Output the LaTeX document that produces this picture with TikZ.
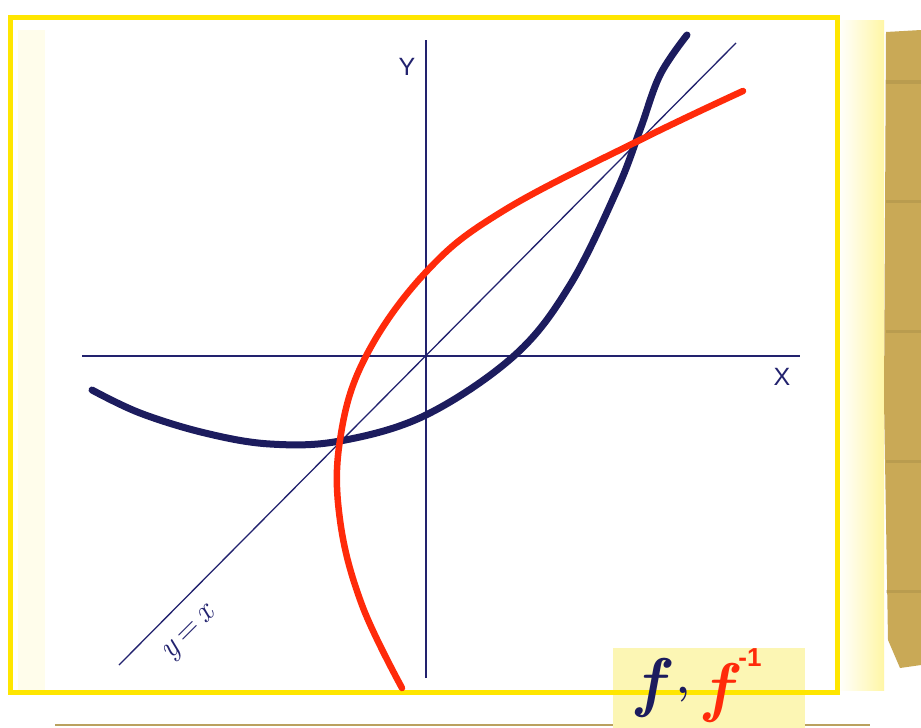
\documentclass[tikz,border=0pt]{standalone}
\usepackage{fontspec}
\setsansfont{Liberation Sans}
\definecolor{navy}{HTML}{1C1C5E}
\definecolor{axisblue}{HTML}{22226E}
\definecolor{penred}{HTML}{FF2A0A}
\definecolor{hiyellow}{HTML}{FFE600}
\definecolor{paleyellow}{HTML}{FCF6B4}
\definecolor{tan}{HTML}{C9A956}
\tikzset{
  axisline/.style={draw=axisblue, line width=1.6pt},
  diagline/.style={draw=axisblue, line width=1.3pt},
  bluecurve/.style={draw=navy, line width=7pt, line cap=round, line join=round},
  redcurve/.style={draw=penred, line width=6.5pt, line cap=round, line join=round},
  frameline/.style={draw=hiyellow, line width=5pt},
  axislabel/.style={text=axisblue, font=\sffamily\fontsize{25}{25}\selectfont, inner sep=0pt},
  biglabel/.style={inner sep=0pt, font=\fontsize{66}{66}\selectfont\bfseries\itshape},
}
\begin{document}
\begin{tikzpicture}[x=1pt,y=-1pt]
\useasboundingbox (0,0) rectangle (921,728);
\fill[white] (0,0) rectangle (921,728);
% paper edge and stain
\shade[left color=white, right color=hiyellow!35] (838,20) rectangle (884,690);
\fill[tan] (886,32) -- (921,30) -- (921,665) -- (900,668) -- (888,640) -- (884,400) -- cycle;
\fill[tan!70!black, opacity=0.25] (886,80) rectangle (921,84);
\fill[tan!70!black, opacity=0.25] (886,200) rectangle (921,203);
\fill[tan!70!black, opacity=0.25] (886,330) rectangle (921,333);
\fill[tan!70!black, opacity=0.25] (886,460) rectangle (921,463);
\fill[tan!70!black, opacity=0.25] (886,590) rectangle (921,593);
\fill[hiyellow!8] (18,30) rectangle (45,690);
\draw[line width=1.2pt, draw=tan!80!gray] (55,725) -- (870,725);
% label highlight
\fill[paleyellow] (613,648) rectangle (805,728);
% frame
\draw[frameline] (10,17) rectangle (837,692);
% axes
\coordinate (xl) at (82,356);
\coordinate (xr) at (800,356);
\coordinate (yt) at (426,40);
\coordinate (yb) at (426,678);
\coordinate (dl) at (119,665);
\coordinate (dr) at (736,43);
\draw[axisline] (xl) -- (xr);
\draw[axisline] (yb) -- (yt);
\draw[diagline] (dl) -- (dr);
% curves
\draw[bluecurve] plot[smooth, tension=0.6] coordinates {(92,390) (140,413) (205,433) (270,444) (340,441) (426,415) (515,355) (570,285) (617,190) (640,130) (660,75) (687,35)};
\draw[redcurve] plot[smooth, tension=0.65] coordinates {(402,688) (362,605) (340,520) (340,440) (365,358) (426,272) (503,211) (640,140) (743,91)};
% labels
\node[axislabel] (ylab) at (407,67) {Y};
\node[axislabel] (xlab) at (782,377) {X};
\node[text=axisblue, rotate=45, inner sep=0pt, font=\fontsize{32}{32}\selectfont] (diaglab) at (191,634) {\textit{y}\,=\,\textit{x}};
\node[biglabel, text=navy] (flab) at (650,688) {f};
\node[inner sep=0pt, text=navy, font=\fontsize{44}{44}\selectfont\bfseries] (comma) at (683,695) {,};
\node[biglabel, text=penred] (finv) at (718,693) {f};
\node[text=penred, inner sep=0pt, font=\sffamily\fontsize{26}{26}\selectfont\bfseries] (sup) at (750,658) {-1};
\end{tikzpicture}
\end{document}
